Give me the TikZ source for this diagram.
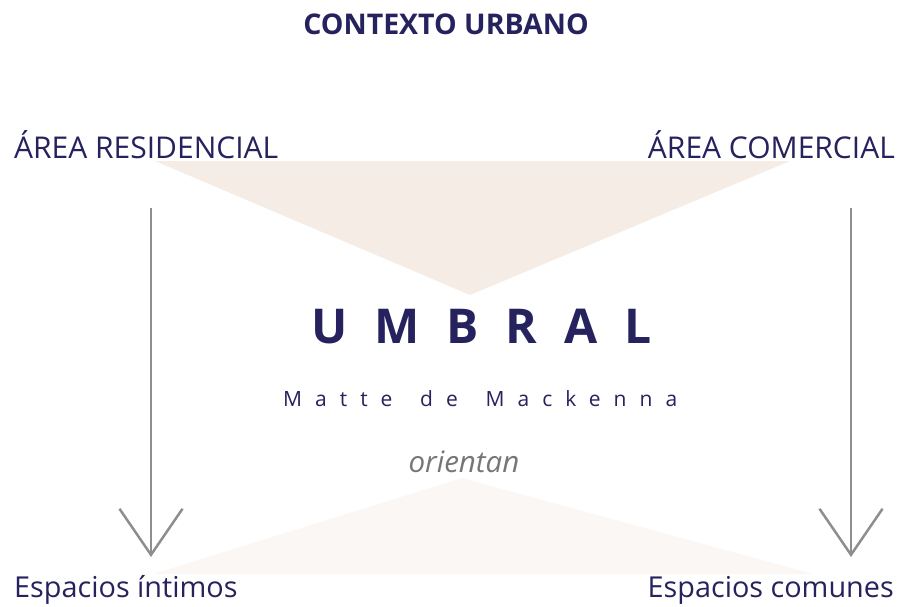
\documentclass[tikz,border=0pt]{standalone}
\usepackage{fontspec}
\setmainfont{Open Sans}
\newfontfamily\spacedwide[LetterSpace=56]{Open Sans}
\newfontfamily\spacedthin[LetterSpace=62,WordSpace=1.5]{Open Sans}
\usetikzlibrary{arrows.meta}
\definecolor{UMazul}{HTML}{25225E}
\definecolor{UMgris}{HTML}{8E8E8E}
\definecolor{UMtexto}{HTML}{76767A}
\definecolor{UMarena}{HTML}{F5ECE5}
\definecolor{UMarenaclara}{HTML}{FBF7F4}

\begin{document}
\begin{tikzpicture}[x=1pt,y=-1pt,inner sep=0pt,text=UMazul,
  flecha/.style={UMgris,line width=2.5pt,-{Straight Barb[length=46pt,width=63pt,line width=2.5pt]}}]
\useasboundingbox (0,0) rectangle (901,606);
\fill[UMarena] (155,161)--(790,161)--(470,295)--cycle;
\fill[UMarenaclara] (153,574)--(462,478)--(813,574)--cycle;
\node[font=\fontsize{28.5}{31}\bfseries\selectfont,anchor=base] (ctx) at (446,34) {CONTEXTO URBANO};
\node[font=\fontsize{30}{33}\selectfont,anchor=base west] (res) at (14,158) {ÁREA RESIDENCIAL};
\node[font=\fontsize{30}{33}\selectfont,anchor=base east] (com) at (895,158) {ÁREA COMERCIAL};
\node[font=\fontsize{48}{52}\bfseries\spacedwide,anchor=base west] (umb) at (311,343) {UMBRAL};
\node[font=\fontsize{21}{24}\spacedthin,anchor=base west] (mat) at (283,406) {Matte de Mackenna};
\node[font=\fontsize{29.5}{32}\itshape\selectfont,text=UMtexto,anchor=base] (ori) at (464,472) {orientan};
\node[font=\fontsize{28.8}{32}\selectfont,anchor=base west] (int) at (14,597) {Espacios íntimos};
\node[font=\fontsize{28.8}{32}\selectfont,anchor=base east] (cmn) at (894,597) {Espacios comunes};
\foreach \n/\x in {izq/151,der/851}{
  \coordinate (\n-a) at (\x,208);
  \coordinate (\n-b) at (\x,557);
  \draw[flecha] (\n-a)--(\n-b);
}
\end{tikzpicture}
\end{document}
